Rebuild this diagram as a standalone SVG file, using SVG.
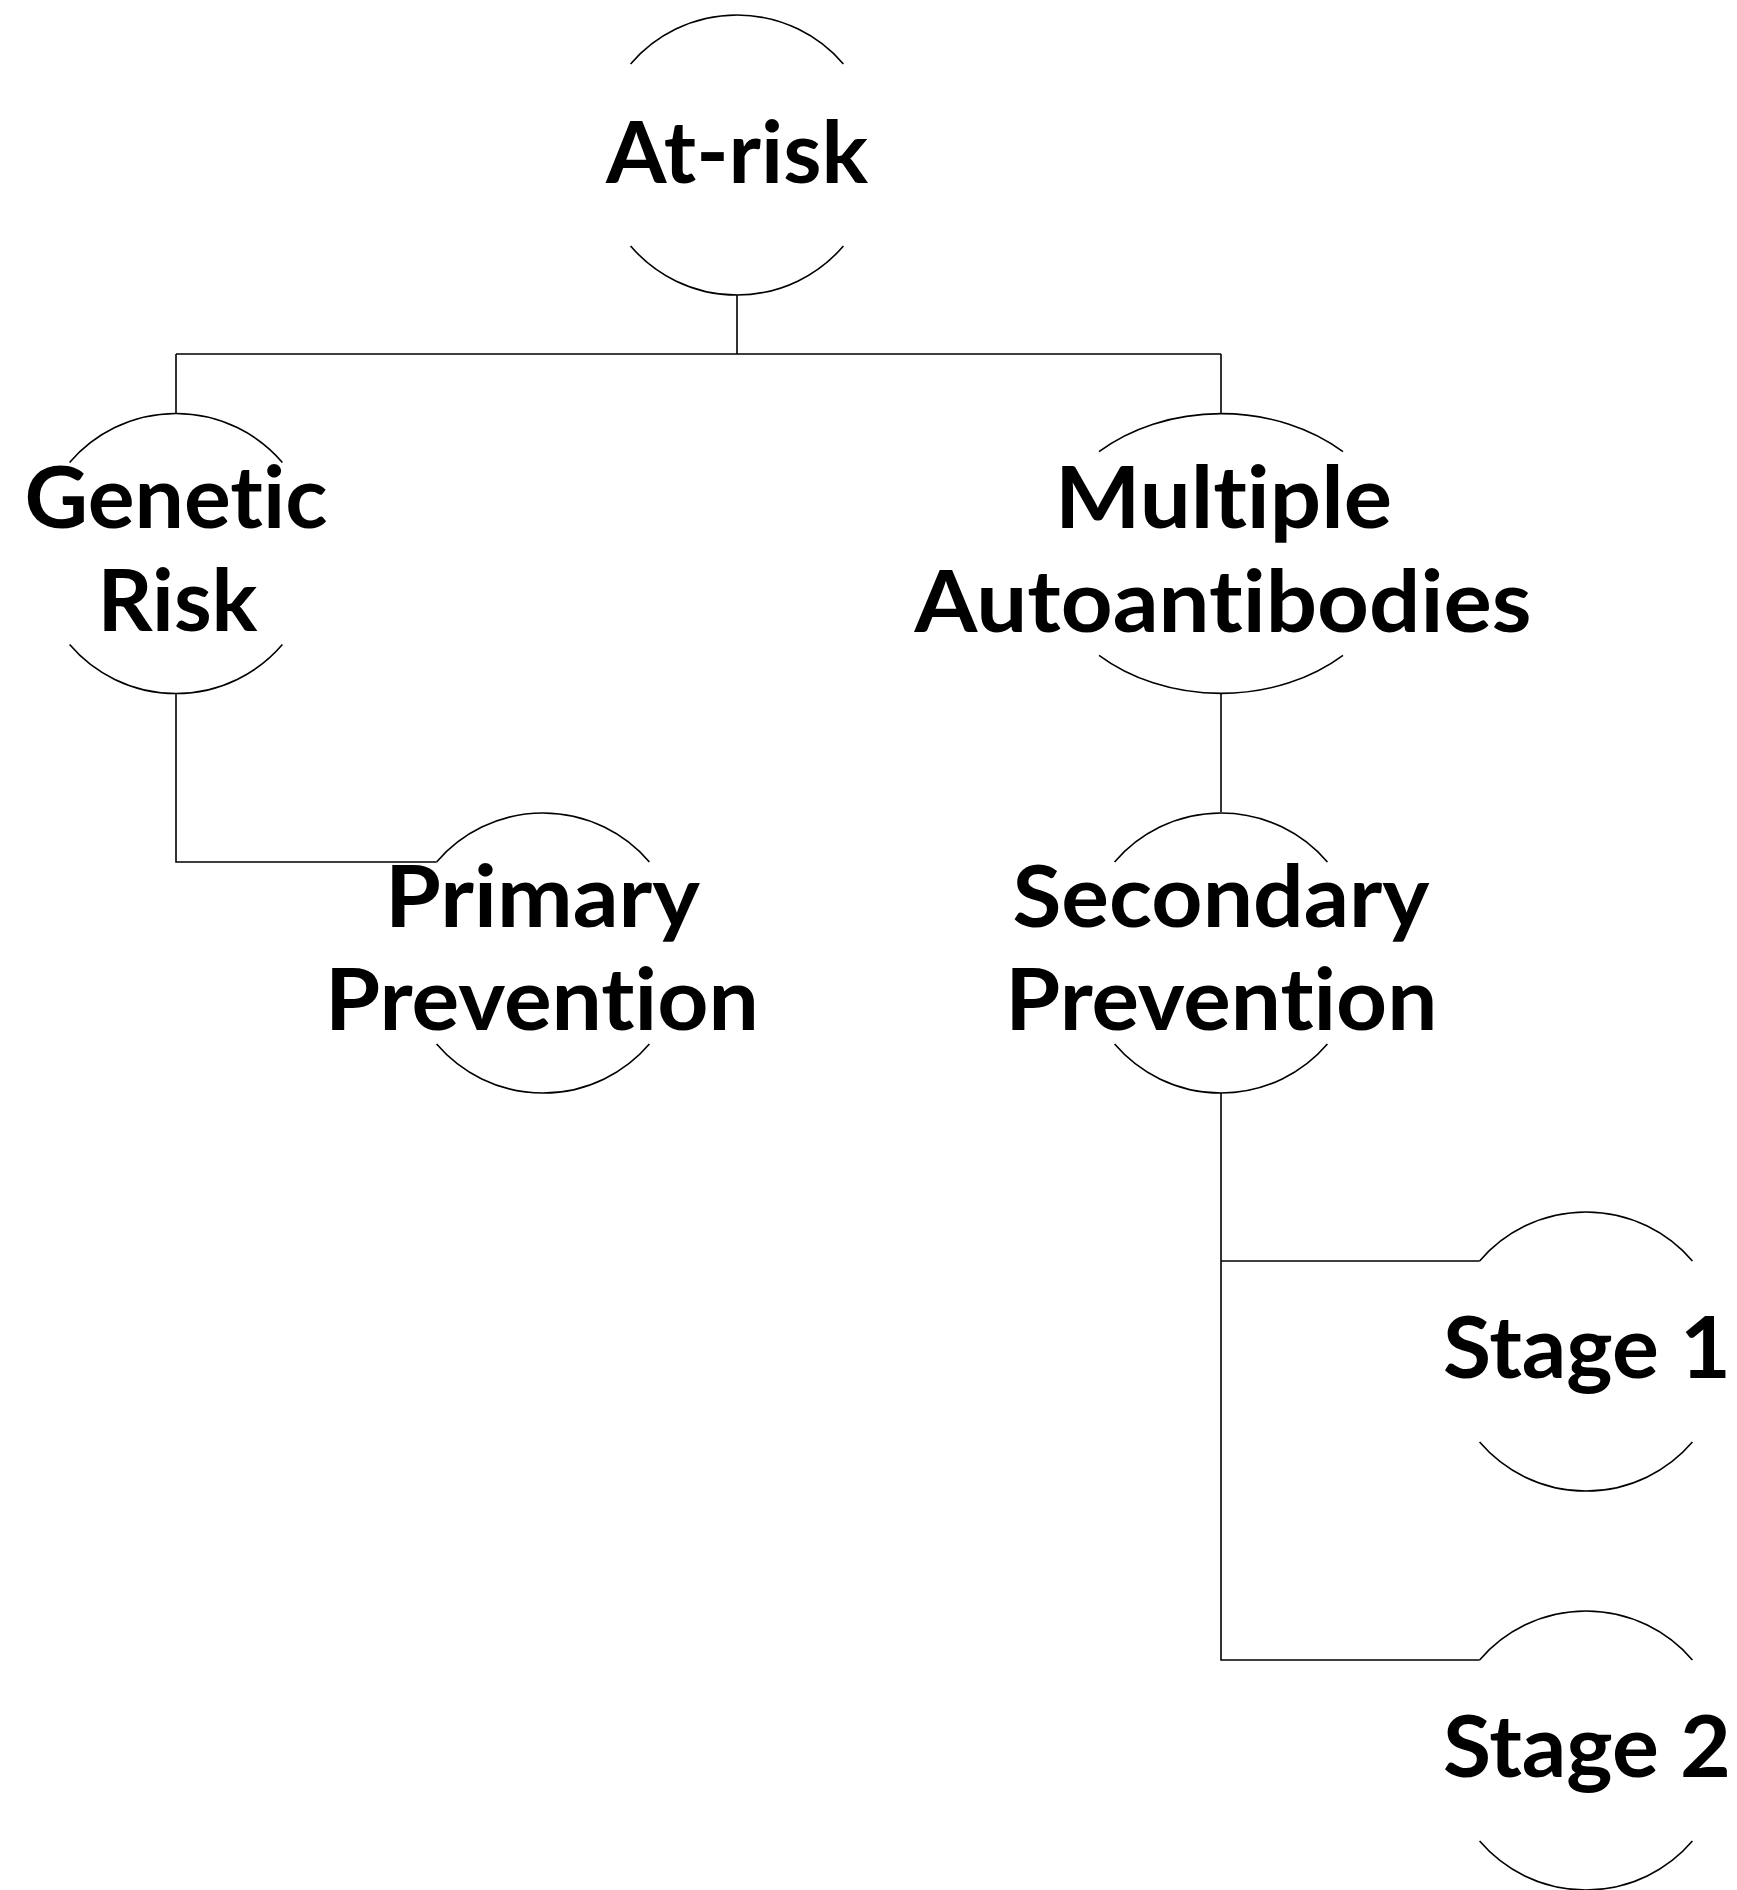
<svg xmlns="http://www.w3.org/2000/svg" width="1737" height="1890" viewBox="0 0 1737 1890">
<style>
.arc{fill:none;stroke:#000;stroke-width:1.6}
.con{fill:none;stroke:#000;stroke-width:1.6}
.lbl{font-family:Lato,"Open Sans","Liberation Sans",sans-serif;font-weight:bold;font-size:87px;fill:#000;text-anchor:middle;font-variant-ligatures:none;font-feature-settings:"liga" 0,"clig" 0}
</style>
<rect width="1737" height="1890" fill="#fff"/>
<g id="connectors">
<path class="con" d="M737,295 V354 M176,354 H1221 M176,354 V413 M1221,354 V413"/>
<path class="con" d="M176,694 V862 H436.6"/>
<path class="con" d="M1221,694 V812"/>
<path class="con" d="M1221,1093 V1660 H1479.6 M1221,1261 H1479.6"/>
</g>
<g id="node-atrisk">
<path class="arc" d="M630.6,64 A140,140 0 0 1 843.4,64 M630.6,246 A140,140 0 0 0 843.4,246"/>
<text class="lbl" x="737" y="183" textLength="262" lengthAdjust="spacingAndGlyphs">At-risk</text>
</g>
<g id="node-genetic">
<path class="arc" d="M69.6,462.5 A140,140 0 0 1 282.4,462.5 M69.6,644.5 A140,140 0 0 0 282.4,644.5"/>
<text class="lbl" x="176" y="528" textLength="303" lengthAdjust="spacingAndGlyphs">Genetic</text>
<text class="lbl" x="177.5" y="631" textLength="160" lengthAdjust="spacingAndGlyphs">Risk</text>
</g>
<g id="node-multiple">
<path class="arc" d="M1099,451.7 A178,140 0 0 1 1343,451.7 M1099,655.3 A178,140 0 0 0 1343,655.3"/>
<text class="lbl" x="1223.5" y="528" textLength="337" lengthAdjust="spacingAndGlyphs">Multiple</text>
<text class="lbl" x="1223" y="632" textLength="617" lengthAdjust="spacingAndGlyphs">Autoantibodies</text>
</g>
<g id="node-primary">
<path class="arc" d="M436.6,862 A140,140 0 0 1 649.4,862 M436.6,1044 A140,140 0 0 0 649.4,1044"/>
<text class="lbl" x="542.5" y="927" textLength="315" lengthAdjust="spacingAndGlyphs">Primary</text>
<text class="lbl" x="542" y="1030" textLength="434" lengthAdjust="spacingAndGlyphs">Prevention</text>
</g>
<g id="node-secondary">
<path class="arc" d="M1114.6,862 A140,140 0 0 1 1327.4,862 M1114.6,1044 A140,140 0 0 0 1327.4,1044"/>
<text class="lbl" x="1221" y="927" textLength="417" lengthAdjust="spacingAndGlyphs">Secondary</text>
<text class="lbl" x="1221.3" y="1030" textLength="432" lengthAdjust="spacingAndGlyphs">Prevention</text>
</g>
<g id="node-stage1">
<path class="arc" d="M1479.6,1261 A140,140 0 0 1 1692.4,1261 M1479.6,1442 A140,140 0 0 0 1692.4,1442"/>
<text class="lbl" x="1587" y="1378" textLength="288" lengthAdjust="spacingAndGlyphs">Stage 1</text>
</g>
<g id="node-stage2">
<path class="arc" d="M1479.6,1660 A140,140 0 0 1 1692.4,1660 M1479.6,1841 A140,140 0 0 0 1692.4,1841"/>
<text class="lbl" x="1587" y="1777" textLength="288" lengthAdjust="spacingAndGlyphs">Stage 2</text>
</g>
</svg>
